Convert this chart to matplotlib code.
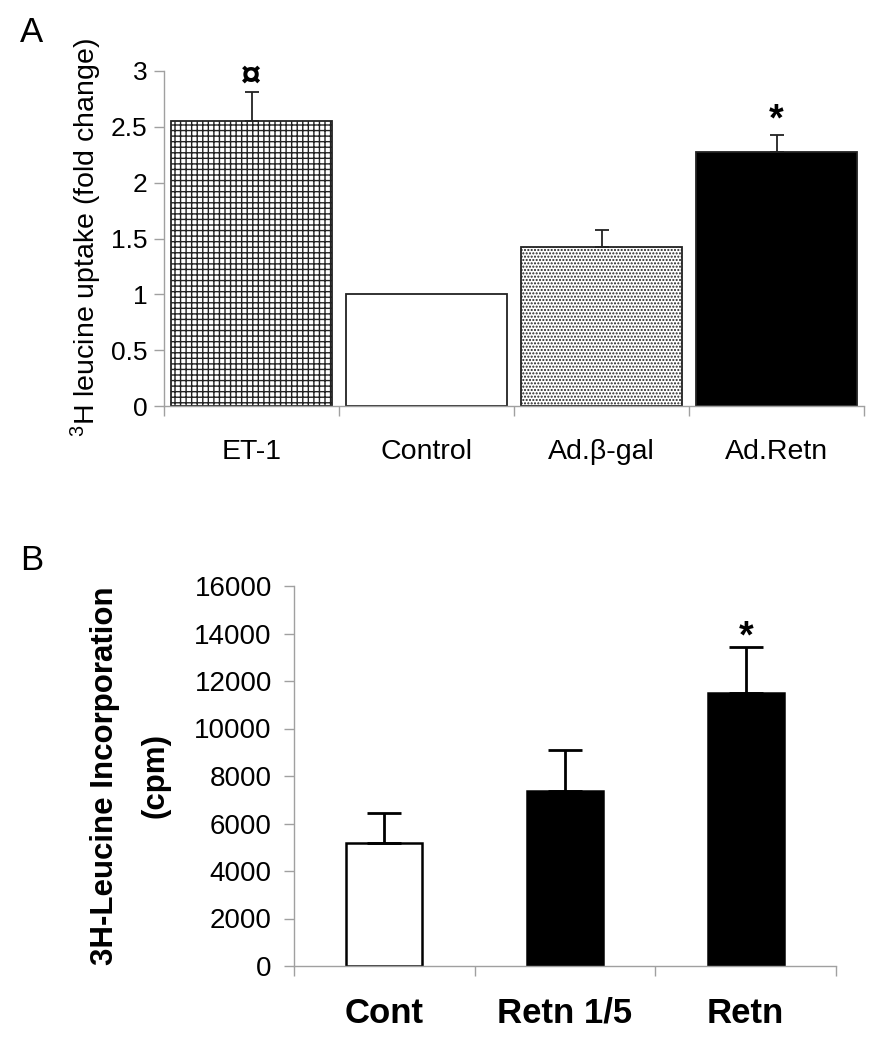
import matplotlib
matplotlib.use('Agg')
import matplotlib.pyplot as plt
import numpy as np

plt.rcParams['font.family'] = ['Liberation Sans', 'DejaVu Sans']
plt.rcParams['mathtext.default'] = 'regular'
plt.rcParams['hatch.linewidth'] = 1.0

# panel A data
cats_a = ['ET-1', 'Control', 'Ad.\u03b2-gal', 'Ad.Retn']
vals_a = [2.55, 1.0, 1.42, 2.275]
err_a = [0.26, 0.0, 0.155, 0.155]
marks_a = ['\u00a4', '', '', '*']

# panel B data
cats_b = ['Cont', 'Retn 1/5', 'Retn']
vals_b = [5180, 7370, 11490]
err_b = [1260, 1720, 1940]
marks_b = ['', '', '*']

axcol = '#a0a0a0'
fig = plt.figure(figsize=(8.94, 10.63), dpi=100)


def style_axes(ax, n, pad):
    for s in ['top', 'right']:
        ax.spines[s].set_visible(False)
    for s in ['left', 'bottom']:
        ax.spines[s].set_color(axcol)
        ax.spines[s].set_linewidth(1.0)
    ax.set_xlim(-0.5, n - 0.5)
    ax.set_xticks(np.arange(n))
    ax.set_xticks(np.arange(n + 1) - 0.5, minor=True)
    ax.tick_params(axis='x', which='major', length=0, pad=pad)
    ax.tick_params(axis='x', which='minor', length=7, color=axcol, width=1.0)
    ax.tick_params(axis='y', length=7, color=axcol, width=1.0, direction='out')


# ---- A ----
axA = fig.add_axes([164 / 894, 1 - 406 / 1063, 700 / 894, 335 / 1063])
x = np.arange(len(cats_a))
faces = ['white', 'white', 'white', 'black']
hatches = ['+++', None, '.....', None]
for i in range(len(cats_a)):
    axA.bar(x[i], vals_a[i], width=0.92, color=faces[i], edgecolor='#222222',
            linewidth=1.3, hatch=hatches[i], zorder=2)
    if err_a[i] > 0:
        axA.errorbar(x[i], vals_a[i], yerr=[[0], [err_a[i]]], fmt='none',
                     ecolor='#222222', elinewidth=1.3, capsize=5, capthick=1.3, zorder=3)
axA.set_ylim(0, 3)
axA.set_yticks(np.arange(0, 3.01, 0.5))
axA.set_yticklabels(['0', '0.5', '1', '1.5', '2', '2.5', '3'], fontsize=19)
axA.set_xticklabels(cats_a, fontsize=20.5)
style_axes(axA, len(cats_a), 24)
axA.tick_params(axis='y', pad=5)
axA.text(0, 2.95, marks_a[0], ha='center', va='center', fontsize=26, fontweight='bold')
axA.text(3, 2.56, marks_a[3], ha='center', va='center', fontsize=27, fontweight='bold')
fig.text(86 / 894, 1 - 238 / 1063, '$^3$H leucine uptake (fold change)', rotation=90,
         ha='center', va='center', fontsize=20.5)
fig.text(32 / 894, 1 - 33 / 1063, 'A', ha='center', va='center', fontsize=25)

# ---- B ----
axB = fig.add_axes([294 / 894, 1 - 966 / 1063, 542 / 894, 380 / 1063])
xb = np.arange(len(cats_b))
faces_b = ['white', 'black', 'black']
for i in range(len(cats_b)):
    axB.bar(xb[i], vals_b[i], width=0.42, color=faces_b[i], edgecolor='black',
            linewidth=1.8, zorder=2)
    axB.errorbar(xb[i], vals_b[i], yerr=[[0], [err_b[i]]], fmt='none',
                 ecolor='black', elinewidth=2.0, capsize=12, capthick=2.0, zorder=3)
axB.set_ylim(0, 16000)
axB.set_yticks(np.arange(0, 16001, 2000))
axB.set_yticklabels([str(v) for v in range(0, 16001, 2000)], fontsize=20)
axB.set_xticklabels(cats_b, fontsize=25, fontweight='bold')
style_axes(axB, len(cats_b), 22)
axB.tick_params(axis='y', pad=9)
axB.text(2, 13850, marks_b[2], ha='center', va='center', fontsize=27, fontweight='bold')
fig.text(105 / 894, 1 - 776 / 1063, '3H-Leucine Incorporation', rotation=90,
         ha='center', va='center', fontsize=22.5, fontweight='bold')
fig.text(155 / 894, 1 - 776 / 1063, '(cpm)', rotation=90,
         ha='center', va='center', fontsize=22.5, fontweight='bold')
fig.text(32 / 894, 1 - 561 / 1063, 'B', ha='center', va='center', fontsize=25)

fig.savefig('out.png', dpi=100)
